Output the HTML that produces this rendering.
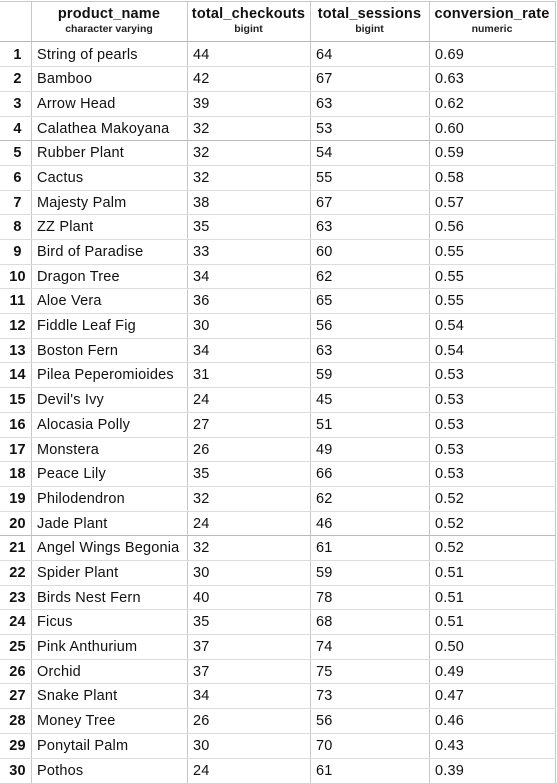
<!DOCTYPE html>
<html><head><meta charset="utf-8"><style>
body{margin:0;background:#fff;width:557px;height:783px;overflow:hidden;font-family:"Liberation Sans",Arial,sans-serif;color:#111}
#t{position:absolute;left:0;top:0}
.c{position:absolute;box-sizing:border-box;white-space:nowrap;font-size:14.5px;letter-spacing:0.2px}
.vl{position:absolute;top:1px;height:782px;width:1px;background:#c8c8c8}
.hl{position:absolute;left:0;width:556px;height:1px;background:#dcdcdc}
.h1{position:absolute;font-weight:bold;font-size:14.5px;text-align:center;letter-spacing:0.2px}
.h2{position:absolute;font-weight:bold;font-size:10.5px;text-align:center;color:#222}
</style></head><body>
<div id="t"></div>
<script>
const names=["String of pearls","Bamboo","Arrow Head","Calathea Makoyana","Rubber Plant","Cactus","Majesty Palm","ZZ Plant","Bird of Paradise","Dragon Tree","Aloe Vera","Fiddle Leaf Fig","Boston Fern","Pilea Peperomioides","Devil's Ivy","Alocasia Polly","Monstera","Peace Lily","Philodendron","Jade Plant","Angel Wings Begonia","Spider Plant","Birds Nest Fern","Ficus","Pink Anthurium","Orchid","Snake Plant","Money Tree","Ponytail Palm","Pothos"];
const checkouts=[44,42,39,32,32,32,38,35,33,34,36,30,34,31,24,27,26,35,32,24,32,30,40,35,37,37,34,26,30,24];
const sessions=[64,67,63,53,54,55,67,63,60,62,65,56,63,59,45,51,49,66,62,46,61,59,78,68,74,75,73,56,70,61];
const rates=["0.69","0.63","0.62","0.60","0.59","0.58","0.57","0.56","0.55","0.55","0.55","0.54","0.54","0.53","0.53","0.53","0.53","0.53","0.52","0.52","0.52","0.51","0.51","0.51","0.50","0.49","0.47","0.46","0.43","0.39"];
const heads=[["product_name","character varying"],["total_checkouts","bigint"],["total_sessions","bigint"],["conversion_rate","numeric"]];
const colX=[31,187,310,429,555];
const tbl=document.getElementById('t');
function add(cls,style,txt){const d=document.createElement('div');d.className=cls;d.style.cssText=style;if(txt!==undefined)d.textContent=txt;tbl.appendChild(d);return d;}
colX.forEach((x,i)=>{const v=add('vl','left:'+x+'px');

});
const topBorder=add('hl','top:1px;background:#c8c8c8');


heads.forEach((h,i)=>{const a=add('h1','left:'+colX[i]+'px;width:'+(colX[i+1]-colX[i])+'px;top:6px',h[0]);


const b=add('h2','left:'+colX[i]+'px;width:'+(colX[i+1]-colX[i])+'px;top:23px',h[1]);

});
const y0=41.5,rh=24.69;
const hb=add('hl','top:41px;background:#b8b8b8');


for(let r=0;r<names.length;r++){
 const y=y0+r*rh;
 if(r>0){const l=add('hl','top:'+Math.round(y)+'px'+((r==4||r==20)?';background:#bbb':''));
 
 }
 const ty=Math.round(y+5);
 const n=add('c','left:0;width:35px;text-align:center;font-weight:bold;top:'+ty+'px',String(r+1));
 
 
 const vals=[names[r],checkouts[r],sessions[r],rates[r]];
 vals.forEach((v,i)=>{const c=add('c','left:'+(colX[i]+6)+'px;top:'+ty+'px',String(v));
 
 });
}
</script>
</body></html>
